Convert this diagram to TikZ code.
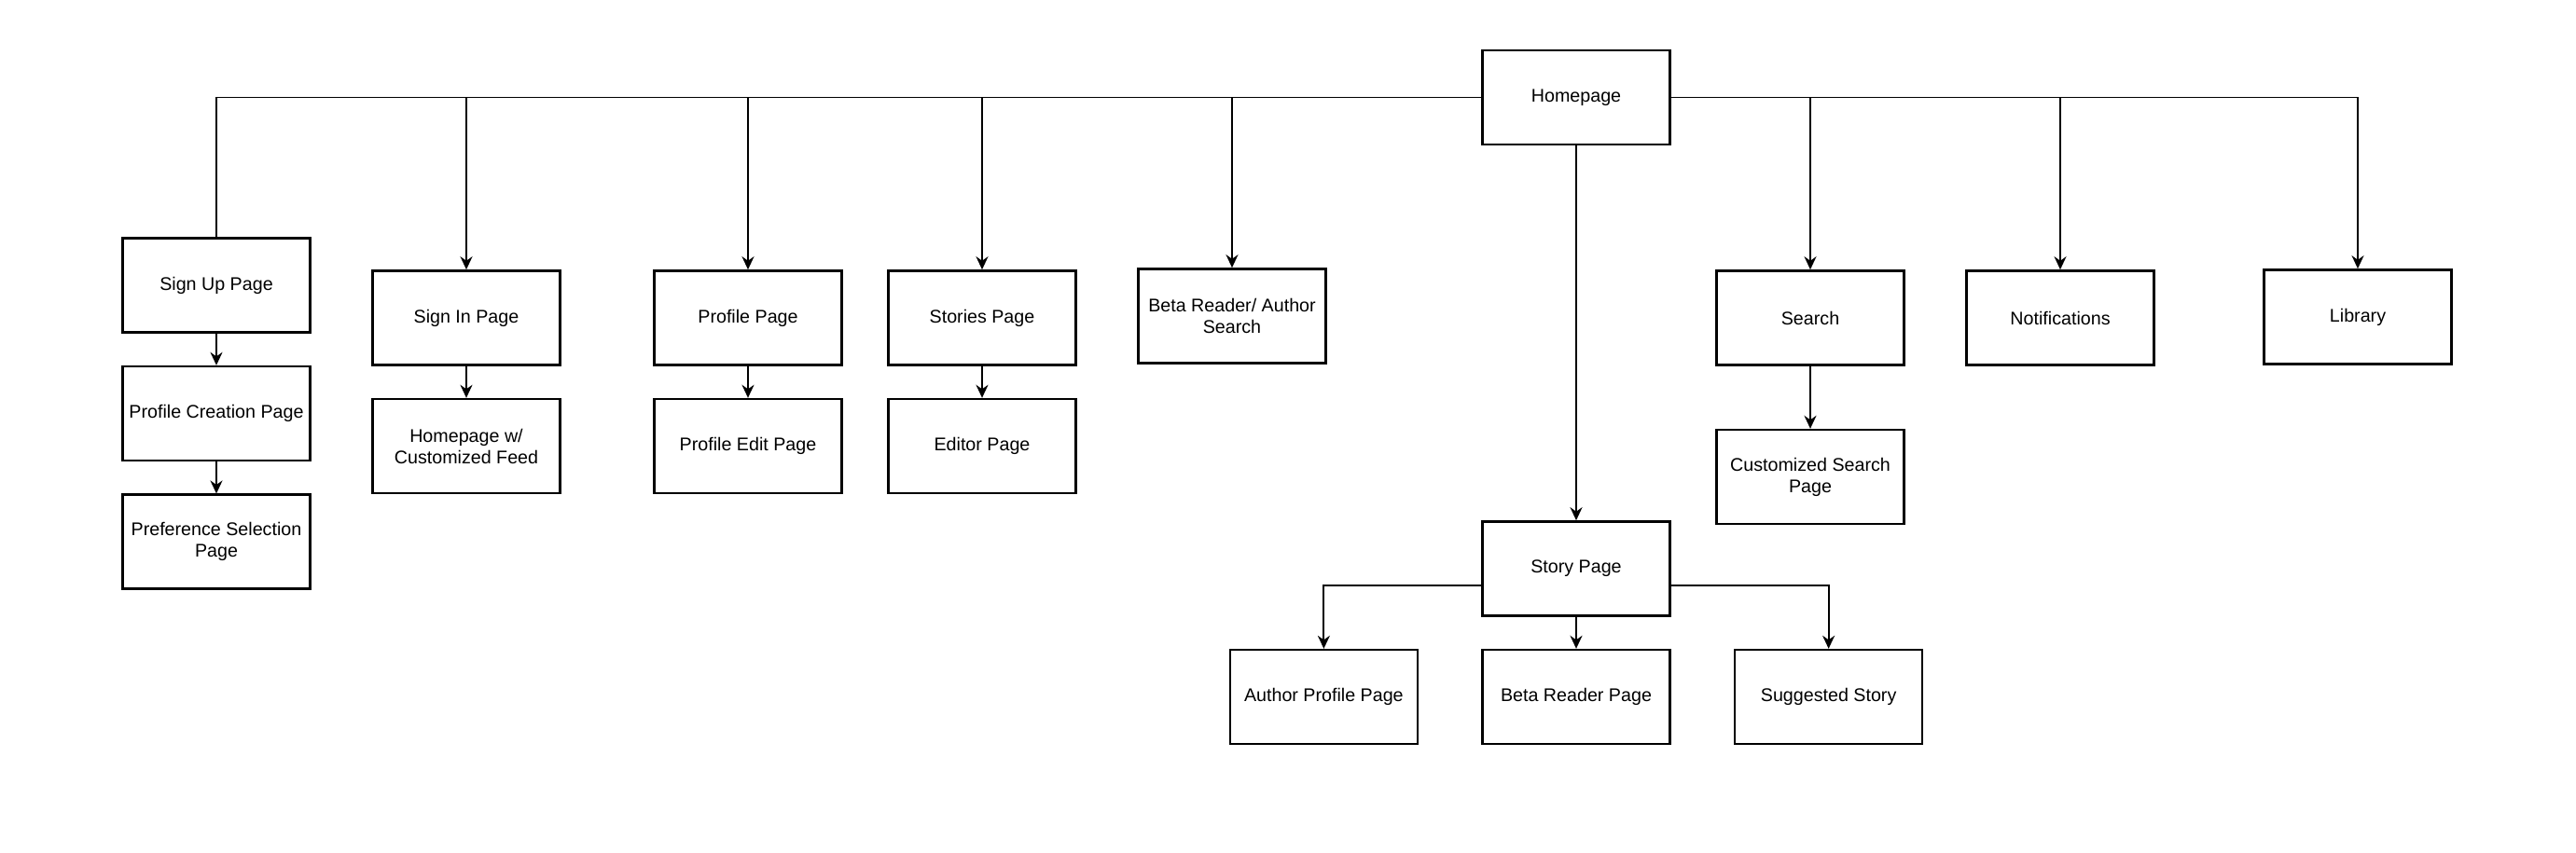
\documentclass[tikz,border=0pt]{standalone}
\usepackage{fontspec}
\setmainfont{Liberation Sans}
\usepackage{tikz}
\usetikzlibrary{arrows.meta,positioning}

\begin{document}
\begin{tikzpicture}[>={Stealth[length=1.4mm,width=1.3mm]},node distance=3.4mm,
  every node/.style={font=\fontsize{5.6}{6.5}\selectfont,align=center},
  page/.style={draw,line width=0.75pt,minimum width=20.1mm,minimum height=10.1mm,inner sep=0pt},
  link/.style={line width=0.55pt}]
\useasboundingbox (0,0) rectangle (27.62,-9.15);
\node[page] (home) at (16.9,-1.045) {Homepage};
% left branch
\node[page] (signup) at (2.32,-3.06) {Sign Up Page};
\node[page,below=of signup] (profcreate) {Profile Creation Page};
\node[page,below=of profcreate] (prefsel) {Preference Selection\\Page};
\node[page] (signin) at (5.0,-3.41) {Sign In Page};
\node[page,below=of signin] (homefeed) {Homepage w/\\Customized Feed};
\node[page] (profile) at (8.02,-3.41) {Profile Page};
\node[page,below=of profile] (profedit) {Profile Edit Page};
\node[page] (stories) at (10.53,-3.41) {Stories Page};
\node[page,below=of stories] (editor) {Editor Page};
\node[page] (betasearch) at (13.21,-3.39) {Beta Reader/ Author\\Search};
% right branch
\node[page] (search) at (19.41,-3.41) {Search};
\node[page,below=6.7mm of search] (custsearch) {Customized Search\\Page};
\node[page] (notif) at (22.09,-3.41) {Notifications};
\node[page] (library) at (25.28,-3.40) {Library};
% story branch
\node[page] (story) at (16.9,-6.10) {Story Page};
\node[page,below=of story] (betapage) {Beta Reader Page};
\node[page,left=of betapage,xshift=-3.3mm] (authorprof) {Author Profile Page};
\node[page,right=of betapage,xshift=3.3mm] (suggested) {Suggested Story};

\draw[link] (home.west) -| (signup);
\draw[link,->] (home.west) -| (signin);
\draw[link,->] (home.west) -| (profile);
\draw[link,->] (home.west) -| (stories);
\draw[link,->] (home.west) -| (betasearch);
\draw[link,->] (home.east) -| (search);
\draw[link,->] (home.east) -| (notif);
\draw[link,->] (home.east) -| (library);
\draw[link,->] (home) -- (story);
\draw[link,->] (signup) -- (profcreate);
\draw[link,->] (profcreate) -- (prefsel);
\draw[link,->] (signin) -- (homefeed);
\draw[link,->] (profile) -- (profedit);
\draw[link,->] (stories) -- (editor);
\draw[link,->] (search) -- (custsearch);
\draw[link,->] ([yshift=-1.8mm]story.west) -| (authorprof);
\draw[link,->] (story) -- (betapage);
\draw[link,->] ([yshift=-1.8mm]story.east) -| (suggested);
\end{tikzpicture}
\end{document}
